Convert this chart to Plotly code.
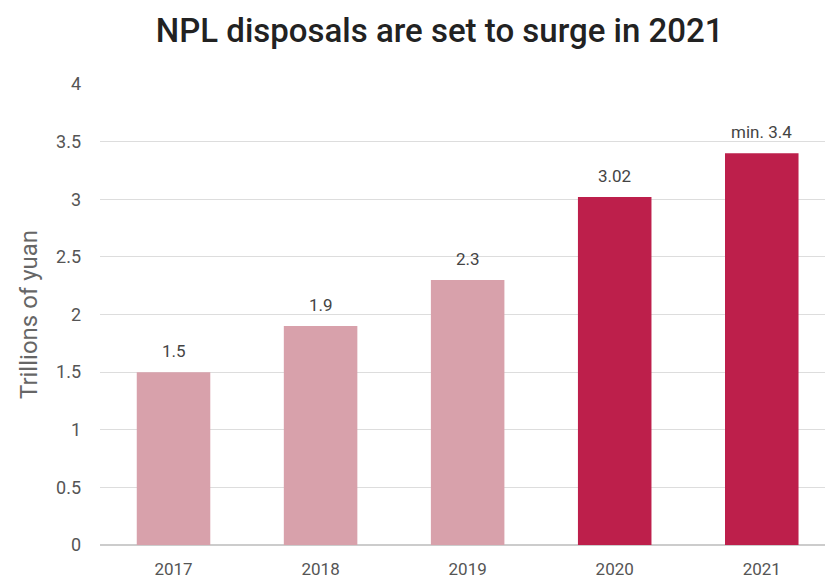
import plotly.graph_objects as go

years = ["2017", "2018", "2019", "2020", "2021"]
values = [1.5, 1.9, 2.3, 3.02, 3.4]
labels = ["1.5", "1.9", "2.3", "3.02", "min. 3.4"]
colors = ["#d8a1ab", "#d8a1ab", "#d8a1ab", "#bd1f4b", "#bd1f4b"]
yticks = [0, 0.5, 1, 1.5, 2, 2.5, 3, 3.5, 4]
ytick_text = ["0", "0.5", "1", "1.5", "2", "2.5", "3", "3.5", "4"]

FONT = "Roboto, 'DejaVu Sans Condensed', sans-serif"

xs = list(range(len(years)))
fig = go.Figure(go.Bar(
    x=xs,
    y=values,
    marker=dict(color=colors, line=dict(width=0)),
    hoverinfo="skip",
))

for x, v, t in zip(xs, values, labels):
    fig.add_annotation(x=x, y=v, text=t, showarrow=False, yanchor="bottom",
                       yshift=9, font=dict(size=17, color="#444", family=FONT))

fig.update_layout(
    width=825, height=584,
    margin=dict(l=100, r=0, t=84, b=39, autoexpand=False),
    paper_bgcolor="white", plot_bgcolor="white",
    bargap=0.5,
    showlegend=False,
    font=dict(family=FONT, color="#555"),
    title=dict(text="NPL disposals are set to surge in 2021",
               x=0.533, xanchor="center", y=0.948, yanchor="middle",
               font=dict(size=33, color="#222", family=FONT, weight=500)),
    xaxis=dict(range=[-0.5, 4.43], tickvals=xs, ticktext=years, automargin=False,
               showgrid=False, zeroline=False, showline=False,
               tickfont=dict(size=17, color="#555"), ticklabelstandoff=12),
    yaxis=dict(range=[0, 4], tickvals=yticks, ticktext=ytick_text, automargin=False,
               showgrid=True, gridcolor="#dddddd", gridwidth=1,
               zeroline=True, zerolinecolor="#cccccc", zerolinewidth=1.5,
               tickfont=dict(size=18, color="#555"), ticklabelstandoff=18,
               title=dict(text="Trillions of yuan", font=dict(size=24, color="#666"), standoff=11)),
)

fig.write_html("out.html", config={"displayModeBar": False},
               post_script="document.body.style.margin='0';document.body.style.overflow='hidden';")
